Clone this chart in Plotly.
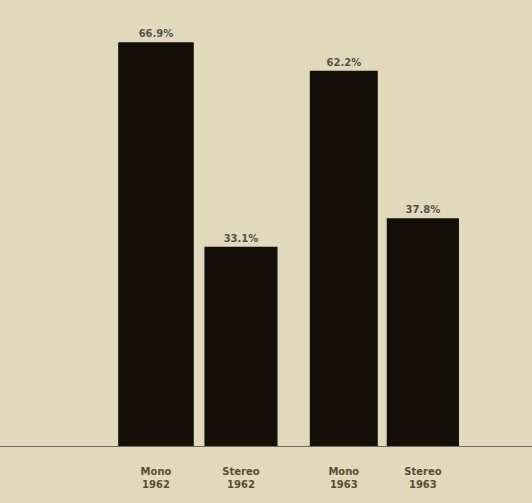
import plotly.graph_objects as go

categories = ["<b>Mono</b><br><b>1962</b>", "<b>Stereo</b><br><b>1962</b>",
              "<b>Mono</b><br><b>1963</b>", "<b>Stereo</b><br><b>1963</b>"]
values = [66.9, 33.1, 62.2, 37.8]
labels = ["<b>66.9%</b>", "<b>33.1%</b>", "<b>62.2%</b>", "<b>37.8%</b>"]

# layout: slot positions (group gap between years)
slots = [0, 1, 2.21, 3.14]

fig = go.Figure(go.Bar(
    x=slots, y=values, width=[0.89, 0.86, 0.8, 0.85],
    marker=dict(color="#150f0a", line=dict(width=0)),
    text=labels, textposition="outside", cliponaxis=False,
    textfont=dict(family="DejaVu Sans", size=10, color="#55534b"),
    hoverinfo="skip",
))

fig.update_layout(
    width=532, height=503,
    margin=dict(l=0, r=0, t=0, b=56),
    paper_bgcolor="#e2d9bd", plot_bgcolor="#e2d9bd",
    showlegend=False,
    xaxis=dict(range=[-1.835, 4.424], tickvals=slots, ticktext=categories,
               showgrid=False, zeroline=False, showline=False, ticks="",
               tickfont=dict(family="DejaVu Sans", size=10, color="#5a4c32"),
               ticklabelstandoff=17),
    yaxis=dict(range=[0, 73.9], visible=False, showgrid=False, zeroline=False),
    shapes=[dict(type="line", xref="paper", yref="y", x0=0, x1=1, y0=0, y1=0,
                 line=dict(color="#6e6c64", width=2))],
)
fig.write_html("out.html", config={"displayModeBar": False},
               post_script="document.body.style.margin='0';document.body.style.background='#e2d9bd';")
